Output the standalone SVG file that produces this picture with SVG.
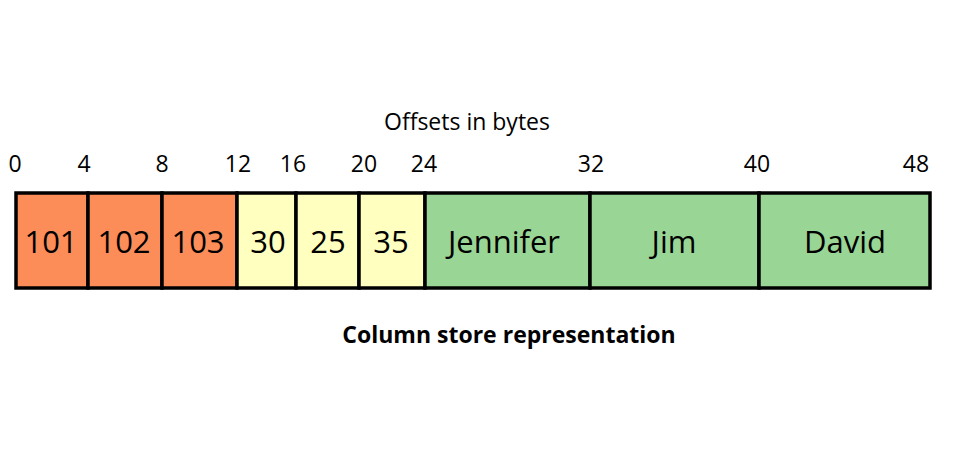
<svg xmlns="http://www.w3.org/2000/svg" width="959" height="472" viewBox="0 0 959 472">
<style>
text{font-family:"Open Sans","Noto Sans","DejaVu Sans",sans-serif;fill:#000;text-anchor:middle}
.off{font-size:23px}
.val{font-size:31px}
.title{font-size:23px;font-weight:bold}
.cell{stroke:#000;stroke-width:3.5}
.o{fill:#fc8d59}.y{fill:#ffffbf}.g{fill:#99d594}
</style>
<rect width="959" height="472" fill="#fff"/>
<text class="off" x="467" y="130">Offsets in bytes</text>
<g id="offsets">
<text class="off" x="15" y="172">0</text>
<text class="off" x="84" y="172">4</text>
<text class="off" x="162" y="172">8</text>
<text class="off" x="238" y="172">12</text>
<text class="off" x="293" y="172">16</text>
<text class="off" x="364" y="172">20</text>
<text class="off" x="424" y="172">24</text>
<text class="off" x="591" y="172">32</text>
<text class="off" x="757" y="172">40</text>
<text class="off" x="916" y="172">48</text>
</g>
<g id="c101"><rect class="cell o" x="16" y="193" width="72" height="95"/><text class="val" x="51" y="253">101</text></g>
<g id="c102"><rect class="cell o" x="88" y="193" width="74" height="95"/><text class="val" x="124" y="253">102</text></g>
<g id="c103"><rect class="cell o" x="162" y="193" width="75" height="95"/><text class="val" x="198" y="253">103</text></g>
<g id="c30"><rect class="cell y" x="237" y="193" width="59" height="95"/><text class="val" x="268" y="253">30</text></g>
<g id="c25"><rect class="cell y" x="296" y="193" width="63" height="95"/><text class="val" x="328" y="253">25</text></g>
<g id="c35"><rect class="cell y" x="359" y="193" width="66" height="95"/><text class="val" x="391" y="253">35</text></g>
<g id="cJennifer"><rect class="cell g" x="425" y="193" width="165" height="95"/><text class="val" x="504" y="253">Jennifer</text></g>
<g id="cJim"><rect class="cell g" x="590" y="193" width="169" height="95"/><text class="val" x="674" y="253">Jim</text></g>
<g id="cDavid"><rect class="cell g" x="759" y="193" width="171" height="95"/><text class="val" x="845" y="253">David</text></g>
<g id="connectors"></g>
<text class="title" x="509" y="343">Column store representation</text>
</svg>
